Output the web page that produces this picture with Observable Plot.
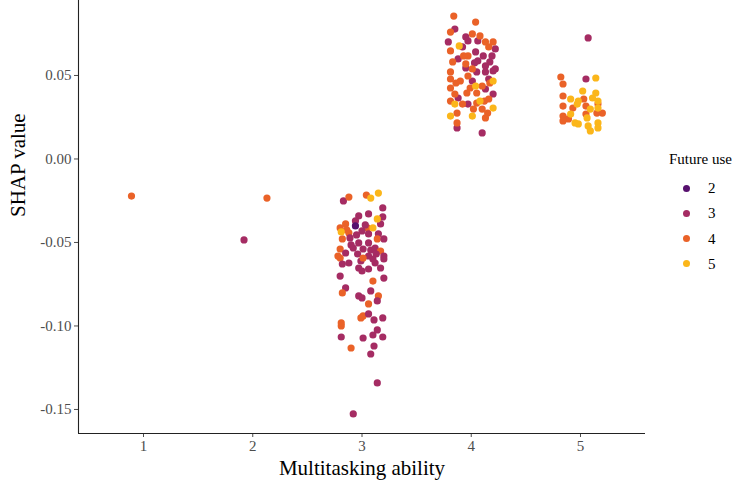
<!DOCTYPE html>
<html>
<head>
<meta charset="utf-8">
<script src="https://cdn.jsdelivr.net/npm/d3@7"></script>
<script src="https://cdn.jsdelivr.net/npm/@observablehq/plot@0.6"></script>
<style>
  body { margin: 0; background: #fff; }
  #wrap { position: relative; width: 742px; height: 484px; font-family: 'Liberation Serif', 'DejaVu Serif', serif; }
  #wrap svg, #wrap svg text { font-family: 'Liberation Serif', 'DejaVu Serif', serif; }
  #legend { position: absolute; left: 0; top: 0; width: 742px; height: 484px; pointer-events: none; }
  .lg-title { position: absolute; left: 669px; top: 150px; font-size: 15px; color: #000; line-height: 18px; white-space: nowrap; }
  .lg-label { position: absolute; left: 708px; font-size: 15px; color: #000; line-height: 18px; }
  .lg-dot { position: absolute; left: 683px; width: 7px; height: 7px; border-radius: 50%; }
</style>
</head>
<body>
<div id="wrap"></div>
<script>
// ---- data ----
const abilityTicks = [1, 2, 3, 4, 5];
const shapTicks = [-0.15, -0.10, -0.05, 0.00, 0.05];
const futureLevels = [2, 3, 4, 5];
const futureColors = ["#57106e", "#a52c63", "#ea6228", "#fbb61a"];
const xTitle = "Multitasking ability";
const yTitle = "SHAP value";
const legendTitle = "Future use";

// [ability (jittered), SHAP value, future use]
const lowAbility = [
  [0.89, -0.0222, 4],
  [1.92, -0.0485, 3],
  [2.13, -0.0234, 4]
];

const abilityThree = [
  [2.83, -0.0251, 3], [2.88, -0.0228, 4], [3.04, -0.0216, 4], [3.08, -0.0234, 5], [3.15, -0.0204, 5],
  [3.19, -0.0293, 3], [3.06, -0.0329, 3], [3.19, -0.0347, 3], [2.97, -0.0341, 3], [2.94, -0.0371, 3],
  [3.17, -0.0389, 3], [3.14, -0.0359, 5], [2.85, -0.0389, 4], [2.80, -0.0413, 4], [3.05, -0.0413, 4],
  [3.00, -0.0431, 3], [2.88, -0.0443, 4], [2.89, -0.0473, 3], [3.06, -0.0449, 3], [3.15, -0.0449, 3],
  [3.14, -0.0479, 4], [3.20, -0.0479, 3], [2.82, -0.0479, 4], [2.97, -0.0503, 3], [3.06, -0.0503, 3],
  [2.86, -0.0425, 4], [2.95, -0.0455, 3], [3.03, -0.0395, 3], [2.90, -0.0515, 3], [3.08, -0.0545, 3],
  [2.80, -0.0539, 4], [2.92, -0.0533, 3], [3.01, -0.0539, 3], [3.12, -0.0533, 3], [3.17, -0.0551, 4],
  [2.85, -0.0563, 3], [2.96, -0.0569, 3], [3.20, -0.0581, 3], [2.78, -0.0581, 4], [3.06, -0.0581, 3],
  [3.13, -0.0569, 3], [2.99, -0.0611, 3], [3.12, -0.0623, 3],
  [2.80, -0.0593, 4], [2.88, -0.0623, 3], [2.82, -0.0629, 3], [2.97, -0.0653, 3], [3.06, -0.0659, 3],
  [3.10, -0.0599, 3], [3.20, -0.0599, 3], [3.01, -0.0593, 4], [3.17, -0.0653, 3], [3.00, -0.0671, 3],
  [2.80, -0.0701, 3], [3.20, -0.0713, 3], [3.10, -0.0731, 4], [2.85, -0.0772, 3], [3.08, -0.0790, 3],
  [2.82, -0.0802, 4], [2.97, -0.0820, 3], [3.00, -0.0832, 3], [3.15, -0.0820, 4], [3.06, -0.0868, 4],
  [3.14, -0.0850, 3], [3.01, -0.0940, 4], [2.99, -0.0952, 4], [3.06, -0.0928, 3], [3.11, -0.0964, 3],
  [3.19, -0.0952, 3], [2.81, -0.1000, 4], [2.81, -0.0982, 4], [2.81, -0.1066, 3], [3.01, -0.1072, 3],
  [3.10, -0.1054, 3], [3.14, -0.1024, 3], [3.19, -0.1066, 3], [2.90, -0.1132, 4], [3.11, -0.1120, 3],
  [3.08, -0.1168, 3], [3.14, -0.1341, 3], [2.92, -0.1527, 3],
  [2.94, -0.0401, 2], [2.81, -0.0437, 5], [3.10, -0.0413, 5]
];

const abilityFour = [
  [3.85, 0.0778, 3], [3.95, 0.0731, 3], [3.97, 0.0707, 3], [4.06, 0.0707, 3], [3.79, 0.0701, 3],
  [3.92, 0.0671, 3], [4.04, 0.0641, 3], [4.22, 0.0659, 3], [4.11, 0.0617, 3], [4.19, 0.0617, 3],
  [3.88, 0.0599, 3], [4.06, 0.0587, 3], [4.17, 0.0581, 3], [4.13, 0.0557, 3], [4.22, 0.0539, 3],
  [4.05, 0.0521, 3], [4.13, 0.0521, 3], [3.95, 0.0545, 3], [4.20, 0.0527, 3], [4.01, 0.0467, 3],
  [4.16, 0.0479, 3], [4.13, 0.0419, 3], [3.88, 0.0365, 3], [4.20, 0.0389, 3], [3.97, 0.0329, 3],
  [4.03, 0.0575, 3], [3.87, 0.0186, 3], [4.10, 0.0156, 3],
  [3.84, 0.0856, 4], [4.04, 0.0820, 4], [3.81, 0.0760, 4], [4.01, 0.0749, 4], [4.08, 0.0737, 4],
  [4.13, 0.0701, 4], [4.20, 0.0701, 4], [3.81, 0.0647, 4], [4.16, 0.0671, 4], [3.97, 0.0617, 4],
  [3.93, 0.0617, 4], [3.83, 0.0581, 4], [3.95, 0.0569, 4], [4.01, 0.0539, 4], [3.81, 0.0521, 4],
  [3.81, 0.0479, 4], [3.90, 0.0467, 4], [3.97, 0.0497, 4], [4.10, 0.0437, 4], [3.81, 0.0425, 4],
  [3.86, 0.0455, 4], [4.17, 0.0455, 4], [3.99, 0.0425, 4], [3.85, 0.0389, 4], [3.96, 0.0395, 4],
  [4.05, 0.0395, 4], [4.16, 0.0359, 4], [3.81, 0.0347, 4], [3.92, 0.0329, 4], [4.05, 0.0335, 4],
  [4.12, 0.0347, 4], [4.10, 0.0299, 4], [4.15, 0.0275, 4], [4.02, 0.0299, 4], [4.13, 0.0246, 4],
  [3.87, 0.0275, 4], [3.87, 0.0216, 4],
  [3.89, 0.0677, 5], [4.04, 0.0437, 5], [4.20, 0.0467, 5], [3.85, 0.0329, 5], [4.08, 0.0347, 5],
  [4.20, 0.0305, 5], [3.81, 0.0257, 5], [4.01, 0.0257, 5]
];

const abilityFive = [
  [5.07, 0.0725, 3], [5.05, 0.0479, 3],
  [4.82, 0.0491, 4], [4.84, 0.0449, 4], [4.84, 0.0377, 4], [5.03, 0.0359, 4], [5.16, 0.0329, 4],
  [4.84, 0.0317, 4], [4.93, 0.0305, 4], [5.05, 0.0317, 4], [5.20, 0.0275, 4], [5.15, 0.0275, 4],
  [4.84, 0.0257, 4], [5.05, 0.0269, 4], [4.89, 0.0240, 4], [4.84, 0.0228, 4],
  [5.14, 0.0485, 5], [5.02, 0.0407, 5], [5.14, 0.0395, 5], [4.91, 0.0359, 5], [4.98, 0.0347, 5],
  [5.11, 0.0365, 5], [5.16, 0.0347, 5], [4.97, 0.0329, 5], [5.09, 0.0299, 5], [5.16, 0.0305, 5],
  [4.91, 0.0269, 5], [4.95, 0.0216, 5], [4.98, 0.0210, 5], [5.06, 0.0246, 5], [5.07, 0.0198, 5],
  [5.16, 0.0216, 5], [5.16, 0.0186, 5], [5.09, 0.0168, 5]
];

const xDomain = [0.405, 5.595];
const yDomain = [-0.1644, 0.0949];

const points = [...lowAbility, ...abilityThree, ...abilityFour, ...abilityFive]
  .map(([ability, shap, future]) => ({ability, shap, future}));

const plot = Plot.plot({
  width: 742,
  height: 484,
  marginLeft: 78,
  marginRight: 97,
  marginTop: 0,
  marginBottom: 51,
  style: { fontFamily: "'Liberation Serif', 'DejaVu Serif', serif", fontSize: "15px", color: "#4d4d4d", background: "#fff", overflow: "visible" },
  x: { domain: xDomain },
  y: { domain: yDomain },
  color: { domain: futureLevels, range: futureColors },
  marks: [
    Plot.axisX({ ticks: abilityTicks, tickFormat: d => String(d), tickSize: 4, tickPadding: 3, label: null }),
    Plot.axisY({ ticks: shapTicks, tickFormat: d => d.toFixed(2), tickSize: 4, tickPadding: 3, label: null }),
    Plot.ruleX([xDomain[0]], { stroke: "#222", strokeWidth: 1.1 }),
    Plot.ruleY([yDomain[0]], { stroke: "#222", strokeWidth: 1.1 }),
    Plot.text([xTitle], { text: d => d, frameAnchor: "bottom", dy: 35, fontSize: 21, fill: "#000", lineAnchor: "middle" }),
    Plot.text([yTitle], { text: d => d, frameAnchor: "left", dx: -60, rotate: -90, fontSize: 21, fill: "#000", lineAnchor: "middle" }),
    Plot.dot(points, { x: "ability", y: "shap", fill: "future", r: 3.6, stroke: "none" })
  ]
});

const wrap = document.getElementById("wrap");
wrap.appendChild(plot);

// legend (keyed to the plot's colour scale)
const color = plot.scale("color");
const legend = document.createElement("div");
legend.id = "legend";
const title = document.createElement("div");
title.className = "lg-title";
title.textContent = legendTitle;
legend.appendChild(title);
futureLevels.forEach((lv, i) => {
  const cy = 188 + i * 25.3;
  const dot = document.createElement("div");
  dot.className = "lg-dot";
  dot.style.top = (cy - 3.5) + "px";
  dot.style.background = color.apply(lv);
  const lab = document.createElement("div");
  lab.className = "lg-label";
  lab.style.top = (cy - 9) + "px";
  lab.textContent = String(lv);
  legend.appendChild(dot);
  legend.appendChild(lab);
});
wrap.appendChild(legend);
</script>
</body>
</html>
